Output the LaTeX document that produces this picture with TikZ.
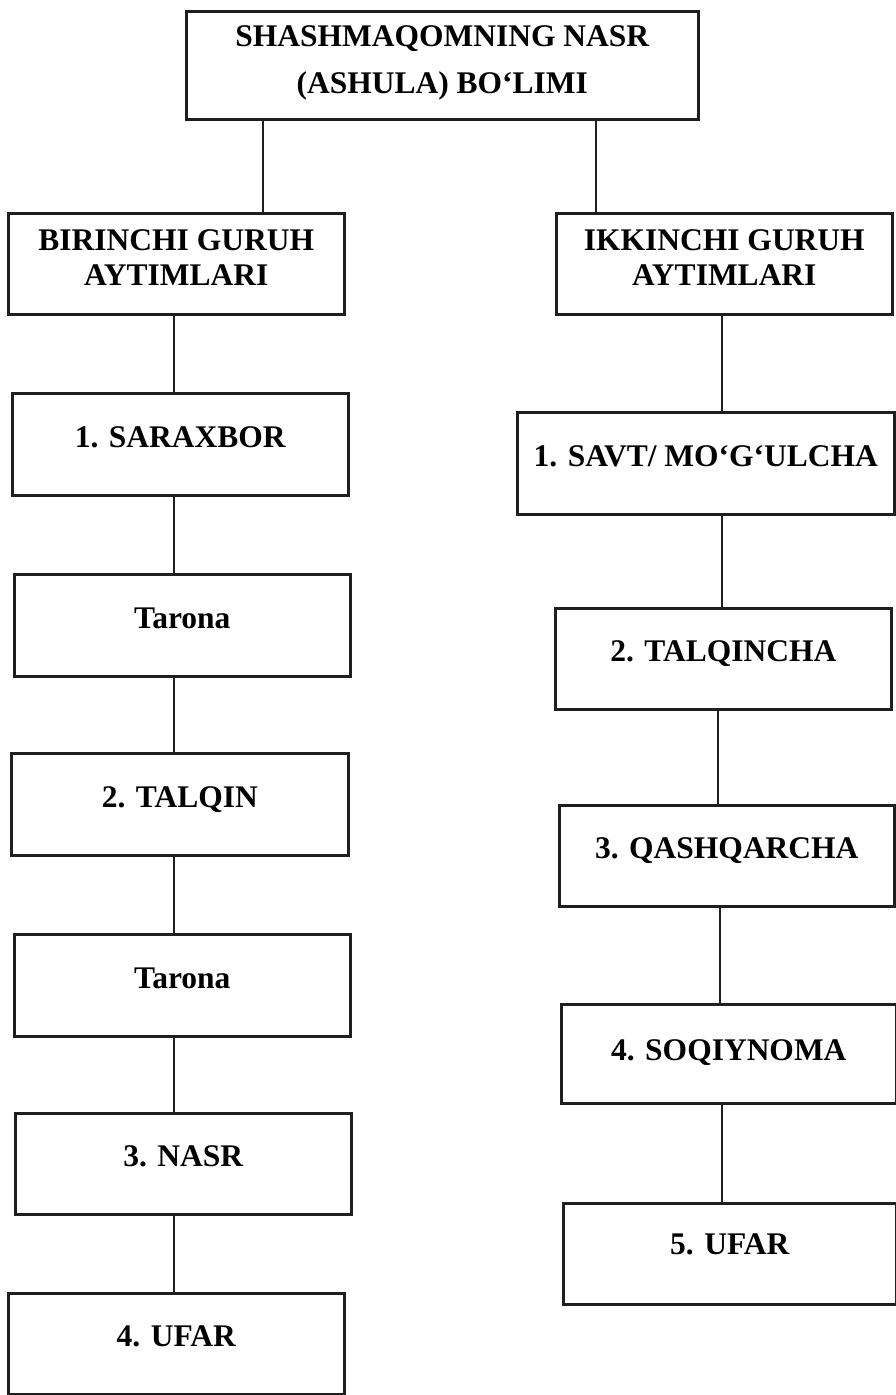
\documentclass[tikz,border=0pt]{standalone}
\usepackage{fontspec}
\setmainfont{Liberation Serif}
\begin{document}
\begin{tikzpicture}[x=1pt,y=-1pt,
  box/.style={draw=black!88,line width=2.6pt,rectangle,inner sep=0pt,anchor=north west,
    font=\fontsize{31.5}{35}\selectfont\bfseries,align=center},
  link/.style={draw=black!88,line width=2.6pt}]
\useasboundingbox[fill=white] (0,0) rectangle (896,1395);
% top
\node[box,minimum width=512pt,text height=82pt,text depth=26pt,
  font=\fontsize{31.5}{47}\selectfont\bfseries] (top) at (185,10)
  {SHASHMAQOMNING NASR\\(ASHULA) BO‘LIMI};
% groups
\node[box,minimum width=336pt,text height=72pt,text depth=29pt] (lg) at (7,212)
  {BIRINCHI GURUH\\AYTIMLARI};
\node[box,minimum width=336pt,text height=72pt,text depth=29pt] (rg) at (555,212)
  {IKKINCHI GURUH\\AYTIMLARI};
% left column
\node[box,minimum width=336pt,text height=54pt,text depth=48pt] (l1) at (11,392) {1. SARAXBOR};
\node[box,minimum width=336pt,text height=54pt,text depth=48pt] (l2) at (13,573) {Tarona};
\node[box,minimum width=337pt,text height=54pt,text depth=48pt] (l3) at (10,752) {2. TALQIN};
\node[box,minimum width=336pt,text height=54pt,text depth=48pt] (l4) at (13,933) {Tarona};
\node[box,minimum width=336pt,text height=53pt,text depth=48pt] (l5) at (14,1112) {3. NASR};
\node[box,minimum width=336pt,text height=53pt,text depth=48pt] (l6) at (7,1292) {4. UFAR};
% right column
\node[box,minimum width=377pt,text height=54pt,text depth=48pt] (r1) at (516,411) {1. SAVT/ MO‘G‘ULCHA};
\node[box,minimum width=336pt,text height=53pt,text depth=48pt] (r2) at (554,607) {2. TALQINCHA};
\node[box,minimum width=335pt,text height=53pt,text depth=48pt] (r3) at (558,804) {3. QASHQARCHA};
\node[box,minimum width=335pt,text height=56pt,text depth=43pt] (r4) at (560,1003) {4. SOQIYNOMA};
\node[box,minimum width=333pt,text height=51pt,text depth=50pt] (r5) at (562,1202) {5. UFAR};
% connector columns
\coordinate (ca) at (263,0);
\coordinate (cb) at (596,0);
\coordinate (cl) at (174,0);
\coordinate (cr) at (722,0);
\coordinate (cr2) at (718,0);
\coordinate (cr3) at (720,0);
\draw[link] (ca |- top.south) -- (ca |- lg.north);
\draw[link] (cb |- top.south) -- (cb |- rg.north);
\draw[link] (cl |- lg.south) -- (cl |- l1.north);
\draw[link] (cl |- l1.south) -- (cl |- l2.north);
\draw[link] (cl |- l2.south) -- (cl |- l3.north);
\draw[link] (cl |- l3.south) -- (cl |- l4.north);
\draw[link] (cl |- l4.south) -- (cl |- l5.north);
\draw[link] (cl |- l5.south) -- (cl |- l6.north);
\draw[link] (cr |- rg.south) -- (cr |- r1.north);
\draw[link] (cr |- r1.south) -- (cr |- r2.north);
\draw[link] (cr2 |- r2.south) -- (cr2 |- r3.north);
\draw[link] (cr3 |- r3.south) -- (cr3 |- r4.north);
\draw[link] (cr |- r4.south) -- (cr |- r5.north);
\end{tikzpicture}
\end{document}
